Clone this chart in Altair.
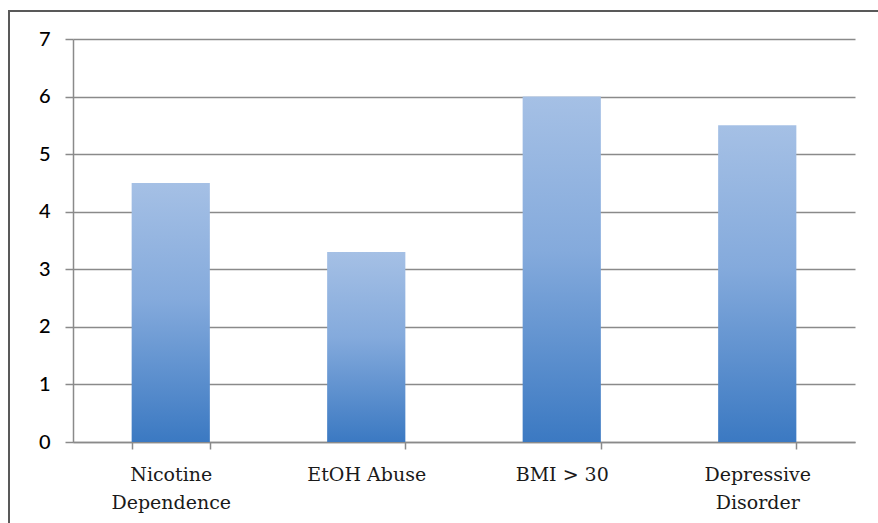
import altair as alt
import pandas as pd

categories = ["Nicotine Dependence", "EtOH Abuse", "BMI > 30", "Depressive Disorder"]
values = [4.5, 3.3, 6.0, 5.5]
y_ticks = [0, 1, 2, 3, 4, 5, 6, 7]

df = pd.DataFrame({"category": categories, "value": values})

W, H = 782, 403
LEFT, TOP = 73, 39
RIGHT = 878 - LEFT - W
BOTTOM = 523 - TOP - H

grad = alt.Gradient(
    gradient="linear",
    x1=0, x2=0, y1=0, y2=1,
    stops=[
        alt.GradientStop(color="#a5c0e5", offset=0),
        alt.GradientStop(color="#84aadc", offset=0.45),
        alt.GradientStop(color="#3b79c2", offset=1),
    ],
)

label_expr = (
    "datum.label == 'Nicotine Dependence' ? ['Nicotine', 'Dependence'] : "
    "datum.label == 'Depressive Disorder' ? ['Depressive', 'Disorder'] : datum.label"
)

bars = alt.Chart(df).mark_bar(color=grad).encode(
    x=alt.X(
        "category:N",
        sort=categories,
        title=None,
        scale=alt.Scale(paddingInner=0.6, paddingOuter=0.3),
        axis=alt.Axis(
            labelAngle=0,
            labelExpr=label_expr,
            labelFont="DejaVu Serif",
            labelFontSize=19,
            labelColor="#1a1a1a",
            labelPadding=16,
            labelLineHeight=28,
            labelBaseline="top",
            tickBand="extent",
            tickSize=7,
            tickColor="#8a8a8a",
            tickWidth=1.5,
            domainColor="#8a8a8a",
            domainWidth=1.5,
            grid=False,
        ),
    ),
    y=alt.Y(
        "value:Q",
        title=None,
        scale=alt.Scale(domain=[0, 7], nice=False),
        axis=alt.Axis(
            values=y_ticks,
            labelFont="Lato",
            labelFontSize=20,
            labelFontWeight=500,
            labelColor="#000000",
            labelPadding=15,
            tickSize=8,
            tickColor="#8a8a8a",
            tickWidth=1.5,
            domainColor="#8a8a8a",
            domainWidth=1.5,
            gridColor="#8a8a8a",
            gridWidth=1.5,
        ),
    ),
)

frame = alt.Chart(pd.DataFrame({"a": [0]})).mark_rect(
    fill=None, stroke="#595959", strokeWidth=2
).encode(
    x=alt.value(9 - LEFT),
    x2=alt.value(900 - LEFT),
    y=alt.value(11 - TOP),
    y2=alt.value(560 - TOP),
)

chart = alt.layer(bars, frame).properties(
    width=W,
    height=H,
    autosize=alt.AutoSizeParams(type="none"),
    padding={"left": LEFT, "top": TOP, "right": RIGHT, "bottom": BOTTOM},
    background="white",
).configure_view(stroke=None)

chart.save("out.html", embed_options={"renderer": "svg", "actions": False})
